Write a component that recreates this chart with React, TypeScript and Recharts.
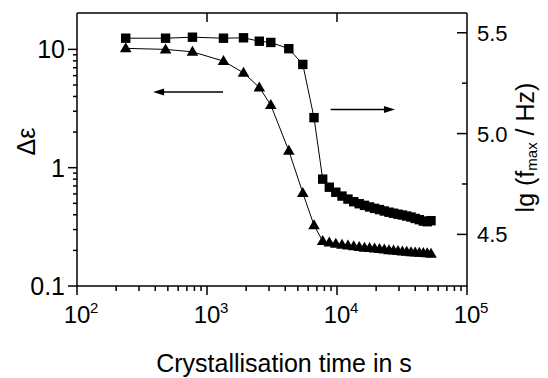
import { ComposedChart, Line, XAxis, YAxis, ReferenceLine } from 'recharts'

// crystallisation time in s
const times = [237, 480, 773, 1339, 1909, 2526, 3096, 4259, 5457, 6655, 7762, 8726, 9790, 10926, 12150, 13447, 14822, 16277, 17815, 19460, 21230, 23110, 25120, 27200, 29460, 31850, 34380, 37090, 39950, 42970, 46120, 49410, 52860]
// dielectric strength (triangles, left axis)
const deltaEps = [10.2, 10.0, 9.54, 7.96, 6.34, 4.77, 3.38, 1.39, 0.612, 0.326, 0.240, 0.233, 0.228, 0.223, 0.220, 0.217, 0.214, 0.211, 0.209, 0.207, 0.205, 0.203, 0.201, 0.1995, 0.198, 0.196, 0.195, 0.193, 0.192, 0.191, 0.190, 0.189, 0.1875]
// lg(fmax/Hz) (squares, right axis)
const lgFmax = [5.473, 5.473, 5.478, 5.473, 5.475, 5.458, 5.452, 5.421, 5.343, 5.079, 4.774, 4.734, 4.709, 4.690, 4.675, 4.662, 4.652, 4.644, 4.636, 4.629, 4.623, 4.616, 4.610, 4.605, 4.600, 4.596, 4.591, 4.586, 4.579, 4.573, 4.566, 4.563, 4.568]

const xMajor = [100, 1000, 10000, 100000]
const xMinor = [200, 300, 400, 500, 600, 700, 800, 900, 2000, 3000, 4000, 5000, 6000, 7000, 8000, 9000, 20000, 30000, 40000, 50000, 60000, 70000, 80000, 90000]
const xTop = [1000, 10000]
const leftMajor = [0.1, 1, 10]
const leftMinor = [0.2, 0.3, 0.4, 0.5, 0.6, 0.7, 0.8, 0.9, 2, 3, 4, 5, 6, 7, 8, 9]
const leftLabels: Record<number, string> = { 0.1: '0.1', 1: '1', 10: '10' }
const rightMajor = [4.5, 5.0, 5.5]
const rightMinor = [4.75, 5.25]

// annotation arrows: [from, to]
const arrowLeft = [{ x: 1328, y: 4.37 }, { x: 385, y: 4.37 }]
const arrowRight = [{ x: 8943, y: 5.12 }, { x: 27900, y: 5.12 }]

const data = times.map((t, i) => ({ t, de: deltaEps[i], lf: lgFmax[i] }))

const INK = '#000'

const Square = (p: any) => {
  const { cx, cy } = p
  if (cx == null || cy == null) return null
  return <rect key={p.key} x={cx - 4.7} y={cy - 4.7} width={9.4} height={9.4} fill={INK} />
}

const Triangle = (p: any) => {
  const { cx, cy } = p
  if (cx == null || cy == null) return null
  return <path key={p.key} d={`M${cx},${cy - 6}L${cx + 5.8},${cy + 4}L${cx - 5.8},${cy + 4}Z`} fill={INK} />
}

const BottomTick = ({ x, y, payload }: any) => {
  const major = xMajor.includes(payload.value)
  const exp = Math.round(Math.log10(payload.value))
  return (
    <g>
      <line x1={x} x2={x} y1={y} y2={y + (major ? 9 : 5)} stroke={INK} strokeWidth={1.5} />
      {major && (
        <>
          <text x={x} y={y + 37} textAnchor="middle" fontSize={24} fill={INK}>10</text>
          <text x={x + 13} y={y + 27} textAnchor="start" fontSize={15} fill={INK}>{exp}</text>
        </>
      )}
    </g>
  )
}

const TopTick = ({ x, y }: any) => (
  <line x1={x} x2={x} y1={y} y2={y + 9} stroke={INK} strokeWidth={1.5} />
)

const LeftTick = ({ x, y, payload }: any) => {
  const major = leftMajor.includes(payload.value)
  return (
    <g>
      <line x1={x} x2={x - (major ? 9 : 4)} y1={y} y2={y} stroke={INK} strokeWidth={1.5} />
      {major && (
        <text x={x - 12} y={y + 9} textAnchor="end" fontSize={25} fill={INK}>{leftLabels[payload.value]}</text>
      )}
    </g>
  )
}

const RightTick = ({ x, y, payload }: any) => {
  const major = rightMajor.includes(payload.value)
  return (
    <g>
      <line x1={x} x2={x - (major ? 10 : 5)} y1={y} y2={y} stroke={INK} strokeWidth={1.5} />
      {major && (
        <text x={x + 10} y={y + 8} textAnchor="start" fontSize={22} fill={INK}>{payload.value.toFixed(1)}</text>
      )}
    </g>
  )
}

const arrowShape = (p: any) => {
  const { x1, y1, x2, y2 } = p
  if (x1 == null) return <g />
  const dir = Math.sign(x2 - x1)
  const tip = x2
  return (
    <g>
      <line x1={x1} y1={y1} x2={tip - dir * 8} y2={y2} stroke={INK} strokeWidth={1.5} />
      <path d={`M${tip},${y2}L${tip - dir * 11},${y2 - 3.5}L${tip - dir * 11},${y2 + 3.5}Z`} fill={INK} />
    </g>
  )
}

export default function App() {
  return (
    <div style={{ position: 'absolute', left: 0, top: 0, fontFamily: '"Liberation Sans", Arial, sans-serif' }}>
      <ComposedChart width={548} height={378} data={data} margin={{ top: 0, right: 0, bottom: 0, left: 0 }}>
        <XAxis
          dataKey="t" type="number" scale="log" domain={[100, 100000]} allowDataOverflow
          ticks={[...xMajor, ...xMinor]} interval={0} height={92}
          axisLine={{ stroke: INK, strokeWidth: 1.5 }} tickLine={false} tickSize={0} tickMargin={0}
          tick={<BottomTick />}
          label={{
            content: ({ viewBox }: any) => (
              <text x={viewBox.x + viewBox.width / 2 + 12} y={viewBox.y + 86} textAnchor="middle" fontSize={25} fill={INK}>
                Crystallisation time in s
              </text>
            ),
          }}
        />
        <XAxis
          xAxisId="top" orientation="top" dataKey="t" type="number" scale="log" domain={[100, 100000]} allowDataOverflow
          ticks={xTop} interval={0} height={13}
          axisLine={{ stroke: INK, strokeWidth: 1.5 }} tickLine={false} tickSize={0} tickMargin={0}
          tick={<TopTick />}
        />
        <YAxis
          yAxisId="left" type="number" scale="log" domain={[0.1, 20.3]} allowDataOverflow
          ticks={[...leftMajor, ...leftMinor]} interval={0} width={77}
          axisLine={{ stroke: INK, strokeWidth: 1.5 }} tickLine={false} tickSize={0} tickMargin={0}
          tick={<LeftTick />}
          label={{
            content: ({ viewBox }: any) => {
              const cx = viewBox.x + 26
              const cy = viewBox.y + viewBox.height / 2 - 8
              return (
                <text x={cx} y={cy} transform={`rotate(-90 ${cx} ${cy})`} textAnchor="middle" dominantBaseline="central" fontSize={25} fill={INK}>
                  Δε
                </text>
              )
            },
          }}
        />
        <YAxis
          yAxisId="right" orientation="right" type="number" domain={[4.244, 5.598]} allowDataOverflow
          ticks={[...rightMajor, ...rightMinor]} interval={0} width={81}
          axisLine={{ stroke: INK, strokeWidth: 1.5 }} tickLine={false} tickSize={0} tickMargin={0}
          tick={<RightTick />}
          label={{
            content: ({ viewBox }: any) => {
              const cx = viewBox.x + 58
              const cy = viewBox.y + viewBox.height / 2 - 2
              return (
                <text x={cx} y={cy} transform={`rotate(-90 ${cx} ${cy})`} textAnchor="middle" dominantBaseline="central" fontSize={25} fill={INK}>
                  lg (f<tspan fontSize={15} dy={6}>max</tspan><tspan dy={-6}> / Hz)</tspan>
                </text>
              )
            },
          }}
        />
        <ReferenceLine yAxisId="left" segment={arrowLeft} shape={arrowShape} />
        <ReferenceLine yAxisId="right" segment={arrowRight} shape={arrowShape} />
        <Line yAxisId="left" dataKey="de" stroke={INK} strokeWidth={1} dot={<Triangle />} isAnimationActive={false} />
        <Line yAxisId="right" dataKey="lf" stroke={INK} strokeWidth={1} dot={<Square />} isAnimationActive={false} />
      </ComposedChart>
    </div>
  )
}
